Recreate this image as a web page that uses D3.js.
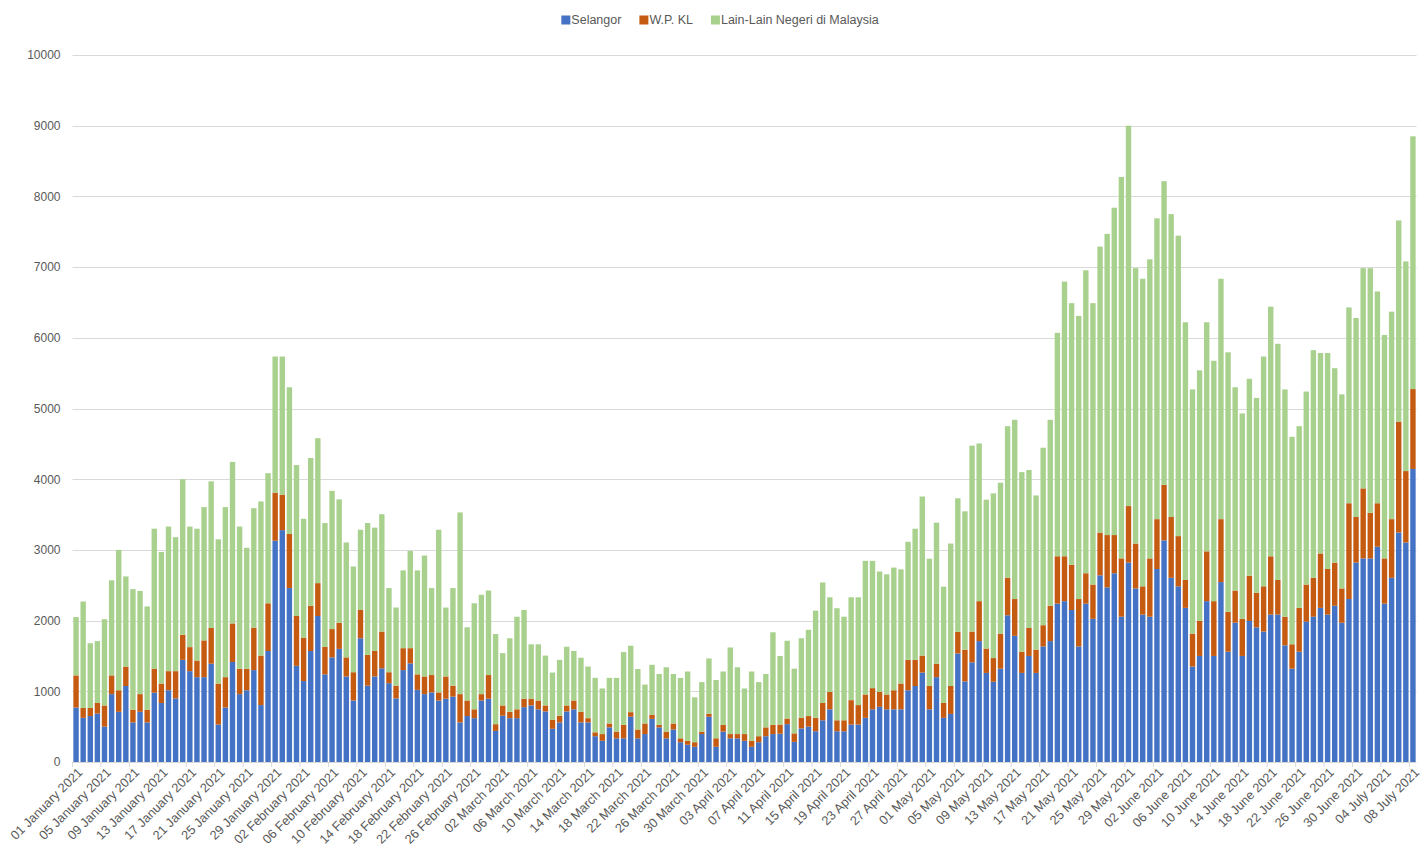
<!DOCTYPE html>
<html>
<head>
<meta charset="utf-8">
<script src="https://cdn.jsdelivr.net/npm/d3@7"></script>
<style>
  html, body { margin: 0; padding: 0; background: #ffffff; }
  svg { display: block; font-family: "Liberation Sans", Arial, sans-serif; }
</style>
</head>
<body>
<svg id="chart" width="1427" height="863"></svg>
<script>
// ---- Data ----
const startDate = "2021-01-01";
const endDate = "2021-07-08";

const seriesNames = ["Selangor", "W.P. KL", "Lain-Lain Negeri di Malaysia"];

const selangor = [
  770,625,650,685,500,960,710,1075,560,710,560,980,835,1015,900,1445,1285,1200,1200,1390,
  530,770,1415,960,1015,1300,805,1570,3130,3280,2460,1360,1145,1570,2065,1240,1480,1600,1210,870,
  1750,1080,1210,1325,1115,900,1300,1395,1020,960,985,870,895,925,560,650,620,870,895,440,
  655,620,620,775,800,745,715,470,560,715,745,560,560,365,300,490,335,335,640,335,
  395,610,490,335,460,280,245,215,395,640,215,430,335,335,300,215,280,365,395,400,
  535,285,475,500,435,590,745,435,435,530,530,625,745,780,745,745,745,1015,1075,1265,
  745,1200,625,680,1535,1140,1410,1710,1260,1135,1320,2075,1785,1260,1500,1260,1635,1710,2240,2275,
  2150,1635,2240,2025,2640,2470,2670,2055,2820,2455,2085,2055,2730,3135,2605,2485,2180,1350,1500,2275,
  1500,2545,1560,1970,1500,1995,1905,1845,2085,2085,1650,1320,1560,1985,2055,2180,2085,2210,1970,2305,
  2820,2880,2880,3045,2240,2605,3245,3105,4145
];

const wpkl = [
  455,140,115,150,300,265,305,275,180,250,180,340,275,270,385,355,340,235,520,505,
  580,430,545,360,305,600,700,675,680,500,765,705,615,640,465,390,400,370,270,400,
  400,435,360,520,155,180,310,215,220,250,245,115,315,155,400,220,125,90,335,95,
  145,90,125,120,95,125,85,125,95,85,125,150,60,55,95,55,95,190,65,125,
  150,60,35,95,85,55,55,65,35,40,120,95,60,60,95,85,85,125,130,130,
  80,120,150,150,190,245,245,155,155,345,275,330,300,210,210,270,365,430,370,240,
  330,190,210,395,305,450,435,565,345,335,495,530,520,300,395,330,300,500,670,635,
  640,670,430,485,605,740,540,825,800,635,400,825,705,785,860,710,395,465,495,705,
  775,890,565,455,525,640,490,640,825,490,405,345,620,525,550,770,645,610,485,1355,
  645,990,645,615,640,830,1570,1010,1130
];

const lainLain = [
  825,1505,915,875,1220,1345,1985,1275,1705,1460,1460,1980,1860,2045,1895,2200,1705,1865,1885,2075,
  2040,2405,2285,2010,1710,1690,2180,1840,1925,1955,2075,2135,1680,2090,2050,1750,1955,1745,1625,1495,
  1135,1865,1745,1660,1190,1105,1100,1375,1470,1710,1230,2300,975,1380,2570,1035,1500,1405,1195,1275,
  740,1040,1310,1255,770,795,705,670,790,830,700,765,730,770,645,645,760,1030,940,855,
  550,705,720,910,700,855,980,635,700,785,825,755,1225,945,645,980,765,755,1310,970,
  1100,915,1125,1220,1515,1705,1340,1585,1465,1455,1525,1890,1800,1705,1700,1735,1615,1670,1855,2250,
  1800,1995,1645,2015,1890,1955,2630,2230,2105,2330,2135,2145,2535,2540,2235,2180,2510,2630,3160,3885,
  3700,4005,4285,3980,4045,4260,4630,5395,5380,3895,4350,4230,4255,4295,4285,4250,3645,3455,3545,3240,
  3400,3400,3670,2875,2905,2785,2755,3250,3530,3340,3215,2935,2570,2730,3220,2835,3055,2750,2745,2770,
  2815,3115,3460,2995,3160,2935,2845,2965,3575
];

const yTicks = [0,1000,2000,3000,4000,5000,6000,7000,8000,9000,10000];
const labelEvery = 4;

const colors = ["#4472C4", "#C55A11", "#A9D18E"];

// ---- Build table ----
const parse = d3.utcParse("%Y-%m-%d");
const dates = d3.utcDay.range(parse(startDate), d3.utcDay.offset(parse(endDate), 1));
const fmt = d3.utcFormat("%d %B %Y");
const categories = dates.map(fmt);

const table = categories.map((c, i) => ({
  cat: c,
  "Selangor": selangor[i],
  "W.P. KL": wpkl[i],
  "Lain-Lain Negeri di Malaysia": lainLain[i]
}));

const stacked = d3.stack().keys(seriesNames)(table);

// ---- Layout ----
const svg = d3.select("#chart");
const plot = { left: 72.5, right: 1416.5, top: 55, bottom: 762 };

const x = d3.scaleBand().domain(categories).range([plot.left, plot.right]).paddingInner(0.24).paddingOuter(0.12);
const y = d3.scaleLinear().domain([0, 10000]).range([plot.bottom, plot.top]);

// gridlines
svg.append("g").selectAll("line").data(yTicks.filter(d => d > 0)).join("line")
  .attr("x1", plot.left).attr("x2", plot.right)
  .attr("y1", d => Math.round(y(d)) + 0.5).attr("y2", d => Math.round(y(d)) + 0.5)
  .attr("stroke", "#d9d9d9").attr("stroke-width", 1.2);

// y labels
const yAxis = d3.axisLeft(y).tickValues(yTicks).tickFormat(d3.format("d")).tickSize(0).tickPadding(0);
const gy = svg.append("g").attr("transform", `translate(${plot.left - 12},0)`).call(yAxis);
gy.select(".domain").remove();
gy.selectAll("text").attr("font-size", 12).attr("fill", "#595959")
  .attr("font-family", "Liberation Sans, Arial, sans-serif");

// bars
svg.append("g").selectAll("g").data(stacked).join("g")
  .attr("fill", (d, i) => colors[i])
  .selectAll("rect").data(d => d).join("rect")
  .attr("x", d => x(d.data.cat))
  .attr("width", x.bandwidth())
  .attr("y", d => y(d[1]))
  .attr("height", d => Math.max(0, y(d[0]) - y(d[1])));

// x axis line
svg.append("line").attr("x1", plot.left).attr("x2", plot.right)
  .attr("y1", plot.bottom + 0.5).attr("y2", plot.bottom + 0.5)
  .attr("stroke", "#d9d9d9").attr("stroke-width", 1.2);

// x ticks & labels
const step = x.step();
const labelled = categories.filter((c, i) => i % labelEvery === 0);
const xl = svg.append("g");
xl.selectAll("line").data(labelled).join("line")
  .attr("x1", d => x(d) - step * x.paddingInner() / 2)
  .attr("x2", d => x(d) - step * x.paddingInner() / 2)
  .attr("y1", plot.bottom).attr("y2", plot.bottom + 5)
  .attr("stroke", "#d9d9d9");
xl.selectAll("text").data(labelled).join("text")
  .attr("transform", d => `translate(${x(d) + x.bandwidth() / 2 + 4},${plot.bottom + 8}) rotate(-45)`)
  .attr("text-anchor", "end")
  .attr("dy", "0.35em")
  .attr("font-size", 12.8)
  .attr("fill", "#595959")
  .text(d => d);

// legend
const legend = svg.append("g");
let lx = 0;
seriesNames.forEach((name, i) => {
  const g = legend.append("g");
  g.append("rect").attr("x", 0).attr("y", -4.5).attr("width", 9).attr("height", 9).attr("fill", colors[i]);
  const t = g.append("text").attr("x", 10).attr("y", 0).attr("dy", "0.35em")
    .attr("font-size", 12.5).attr("fill", "#595959").text(name);
  const w = 10 + t.node().getComputedTextLength();
  g.attr("transform", `translate(${lx},0)`);
  lx += w + 18;
});
const totalW = lx - 18;
legend.attr("transform", `translate(${720 - totalW / 2},20)`);
</script>
</body>
</html>
